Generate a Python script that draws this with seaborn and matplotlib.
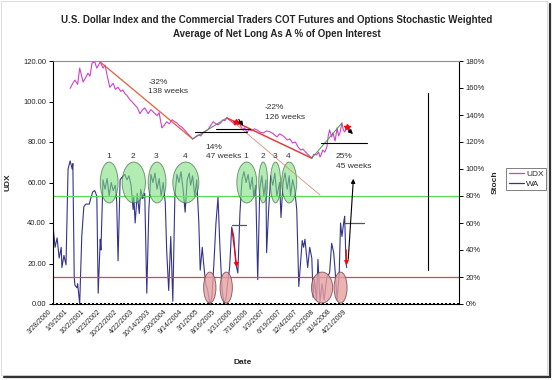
import numpy as np
import pandas as pd
import matplotlib.pyplot as plt
import seaborn as sns
from matplotlib.patches import Ellipse, Rectangle
from matplotlib.lines import Line2D

sns.set_style('white')
plt.rcParams['font.family'] = ['Liberation Sans', 'DejaVu Sans']

# category axis: one slot per week, a date label every 24 slots
N_WEEKS = 593
TICK_STEP = 24
tick_dates = ['3/28/2000', '1/9/2001', '10/2/2001', '4/23/2002', '10/22/2002', '4/22/2003',
              '10/14/2003', '3/30/2004', '9/14/2004', '3/1/2005', '8/16/2005', '1/31/2006',
              '7/18/2006', '1/3/2007', '6/19/2007', '12/4/2007', '5/20/2008', '11/4/2008',
              '4/21/2009']

# U.S. dollar index (left axis)
udx_wk = [25, 29, 32, 36, 39, 44, 48, 51, 54, 57, 61, 64, 69, 73, 76, 79, 83, 88, 91, 95,
          99, 102, 105, 108, 112, 115, 119, 123, 127, 131, 134, 139, 143, 146, 152, 155, 159,
          163, 166, 170, 174, 178, 181, 185, 188, 192, 196, 200, 204, 208, 212, 216, 219, 223,
          226, 230, 234, 238, 241, 245, 248, 251, 254, 258, 261, 264, 266, 270, 274, 277, 280,
          283, 287, 291, 294, 298, 302, 307, 312, 317, 322, 327, 331, 334, 338, 342, 346, 350,
          354, 358, 362, 365, 369, 372, 375, 378, 381, 385, 388, 390, 392, 394, 397, 400, 402,
          404, 407, 409, 412, 415, 417, 419, 422, 424, 426, 429, 431, 434]
udx_val = [106.5, 109.0, 110.6, 108.5, 116.5, 109.6, 112.0, 114.0, 112.5, 119.0, 119.5, 116.5,
           119.5, 116.5, 118.0, 113.0, 107.0, 109.0, 106.0, 107.0, 105.0, 105.7, 104.0, 103.0,
           101.0, 100.0, 98.5, 97.0, 94.0, 96.0, 96.8, 94.0, 96.0, 95.0, 93.0, 94.5, 87.0, 88.5,
           90.0, 89.0, 91.0, 90.0, 89.4, 88.0, 87.4, 86.0, 84.4, 83.0, 81.5, 82.5, 83.5, 83.0,
           84.4, 85.5, 86.0, 88.0, 90.0, 89.0, 88.4, 89.5, 90.9, 90.5, 91.9, 90.8, 90.0, 89.0,
           88.4, 90.0, 88.0, 86.0, 87.0, 85.0, 86.0, 85.5, 86.5, 86.0, 85.0, 84.4, 85.5, 85.0,
           84.0, 82.5, 84.0, 83.5, 82.5, 81.0, 81.5, 79.5, 80.0, 77.5, 76.0, 76.5, 75.0, 74.0,
           73.0, 72.0, 74.0, 73.6, 75.0, 72.6, 74.0, 76.0, 75.0, 77.5, 83.0, 86.0, 82.5, 84.5,
           80.5, 87.0, 83.0, 84.4, 89.4, 86.0, 85.0, 87.0, 86.0, 85.0]

# commercial traders stochastic weighted average (right axis, %)
wa_wk = [0, 3, 6, 9, 12, 13, 16, 19, 22, 25, 28, 29, 31, 32, 35, 36, 39, 42, 45, 48, 53, 55,
         58, 61, 64, 66, 69, 70, 73, 76, 79, 82, 85, 88, 91, 93, 95, 98, 101, 105, 108, 111,
         114, 117, 118, 120, 123, 126, 128, 131, 134, 137, 140, 143, 146, 149, 152, 155, 158,
         161, 164, 166, 169, 172, 175, 178, 181, 184, 187, 190, 193, 196, 199, 201, 204, 207,
         210, 213, 215, 218, 220, 223, 226, 229, 232, 235, 238, 241, 244, 247, 250, 253, 255,
         258, 261, 264, 267, 270, 273, 276, 279, 282, 285, 288, 291, 293, 296, 299, 302, 305,
         308, 311, 312, 315, 318, 321, 324, 327, 331, 333, 336, 339, 342, 345, 347, 350, 353,
         356, 359, 364, 366, 368, 372, 375, 378, 380, 382, 385, 387, 390, 393, 396, 400, 404,
         407, 410, 412, 415, 418, 420, 422, 425, 426, 428, 429]
wa_pct = [58, 42, 49, 34, 42, 27, 36, 29, 100, 106, 100, 104, 20, 14, 12, 15, 0, 50, 72, 74,
          74, 78, 83, 84, 80, 8, 48, 40, 92, 85, 93, 80, 90, 84, 88, 76, 32, 92, 94, 96, 92,
          95, 88, 70, 80, 60, 82, 67, 85, 78, 82, 8, 70, 96, 90, 97, 85, 93, 80, 90, 75, 40,
          10, 50, 2, 80, 96, 90, 98, 85, 68, 92, 97, 88, 95, 80, 92, 60, 25, 42, 30, 15, 10,
          0, 5, 30, 60, 79, 40, 10, 0, 5, 15, 27, 57, 50, 30, 23, 67, 92, 98, 90, 96, 85, 94,
          80, 88, 18, 85, 95, 80, 92, 38, 70, 95, 88, 97, 80, 90, 64, 90, 97, 85, 95, 80, 92,
          85, 70, 13, 47, 42, 48, 27, 42, 34, 5, 18, 3, 33, 2, 15, 3, 20, 23, 45, 38, 25, 3,
          22, 60, 50, 62, 65, 30, 27]

zero_wk = np.arange(0, N_WEEKS, 5.8)

# annotations drawn by the author (week slot, UDX units)
green_x = [82, 118, 152, 194, 283, 307, 325, 345]
green_w = [26, 34, 26, 38, 29, 13, 15, 22]
green_num = ['1', '2', '3', '4', '1', '2', '3', '4']
pink_x = [229, 253, 393, 420]
pink_w = [18, 18, 31, 19]
moves = [('-32%', '138 weeks', 139, 109.6), ('14%', '47 weeks', 223, 77.5),
         ('-22%', '126 weeks', 309, 96.8), ('25%', '45 weeks', 413, 72.6)]

udx = pd.DataFrame({'week': udx_wk, 'value': udx_val})
wa = pd.DataFrame({'week': wa_wk, 'pct': wa_pct})

fig, ax = plt.subplots(figsize=(5.54, 3.8), dpi=100)
fig.subplots_adjust(left=53/554, right=459/554, bottom=76/380, top=319/380)
ax2 = ax.twinx()
ax.set_zorder(ax2.get_zorder() + 1)
ax.patch.set_visible(False)
ax2.set_facecolor('#c0c0c0')

sns.lineplot(data=wa, x='week', y='pct', ax=ax2, color='#33338f', lw=0.8, legend=False)
ax2.axhline(80, color='#55dd55', lw=0.9)
ax2.axhline(20, color='#e04545', lw=0.9)
sns.lineplot(data=udx, x='week', y='value', ax=ax, color='#d040d0', lw=0.8, legend=False)

ax.plot(zero_wk, np.zeros(len(zero_wk)), ls='none', marker='s', ms=2.1, mew=0,
        color='black', clip_on=False, zorder=5)

# ellipses around stochastic extremes
for cx, w, num in zip(green_x, green_w, green_num):
    ax.add_patch(Ellipse((cx, 60), w, 20.2, facecolor='#80e080', alpha=0.6,
                         edgecolor='#2d5a2d', lw=0.7))
    ax.text(cx - 1, 72.6, num, fontsize=6, color='#333333', ha='center', va='center')
for cx, w in zip(pink_x, pink_w):
    ax.add_patch(Ellipse((cx, 8.1), w, 15.3, facecolor='#e8a0a0', alpha=0.8,
                         edgecolor='#7a4a4a', lw=0.7))

# trend lines between UDX turning points
u = dict(zip(udx_wk, udx_val))
ax.plot([69, 204], [u[69], u[204]], color='#e0603a', lw=0.9)
ax.plot([204, 254], [u[204], u[254]], color='#6a8a6a', lw=0.8)
ax.plot([254, 378], [u[254], u[378]], color='#e04040', lw=1.1)
ax.plot([263, 390], [90, 53.8], color='#d89080', lw=0.6)
ax.plot([378, 422], [u[378], u[422]], color='#40a040', lw=0.7)
ax.plot([207, 283], [84.7, 84.7], color='black', lw=0.8)
ax.plot([238, 288], [86.4, 86.4], color='black', lw=0.8)
ax.plot([391, 458], [79.5, 79.5], color='black', lw=0.8)
ax.plot([261, 282], [39, 39], color='#555555', lw=0.9)
ax.plot([425, 454], [40, 40], color='#555555', lw=0.9)
ax.plot([547, 547], [16.8, 104.2], color='black', lw=0.8)
ax.plot([267, 429], [89.9, 87.4], ls='none', marker='*', ms=4, color='red')

arrow = dict(arrowstyle='-|>', color='black', lw=0.8, mutation_scale=6)
ax.annotate('', xy=(280, 86.9), xytext=(269, 92.3), arrowprops=arrow)
ax.annotate('', xy=(441, 83), xytext=(429, 86.9), arrowprops=arrow)
ax.annotate('', xy=(439, 63.2), xytext=(431, 20.7), arrowprops=arrow)
red_arrow = dict(arrowstyle='-|>', color='red', lw=0.9, mutation_scale=6)
ax.annotate('', xy=(269, 16.8), xytext=(261, 38), arrowprops=red_arrow)
ax.annotate('', xy=(429, 17.8), xytext=(428, 28.1), arrowprops=red_arrow)

for pct, weeks, x, y in moves:
    ax.text(x, y, pct, fontsize=6, color='#333333', va='center')
    ax.text(x, y - 4.9, weeks, fontsize=6, color='#333333', va='center')

# axes
ax.set_xlim(0, N_WEEKS)
ax.set_ylim(0, 120)
ax2.set_ylim(0, 180)
ax.set_yticks(range(0, 121, 20))
ax.set_yticklabels([f'{v:.2f}' for v in range(0, 121, 20)], fontsize=5.5)
ax2.set_yticks(range(0, 181, 20))
ax2.set_yticklabels([f'{v}%' for v in range(0, 181, 20)], fontsize=5.5)
ax.set_xticks(np.arange(len(tick_dates)) * TICK_STEP)
ax.set_xticklabels(tick_dates, rotation=45, ha='right', fontsize=5)
ax.tick_params(axis='x', length=0, pad=3)
ax.tick_params(axis='y', length=3, width=0.7, pad=2, color='black', direction='out', left=True)
ax2.tick_params(axis='y', length=3, width=0.7, pad=2, color='black', direction='out', right=True)
for a in (ax, ax2):
    for s in a.spines.values():
        s.set_visible(False)
for side in ('left', 'right', 'bottom', 'top'):
    ax2.spines[side].set_visible(True)
    ax2.spines[side].set_color('black')
    ax2.spines[side].set_linewidth(0.8)
ax2.spines['top'].set_color('#909090')

ax.set_ylabel('UDX', fontsize=6, weight='bold')
ax.yaxis.set_label_coords((12 - 53) / 406, 0.5)
ax2.set_ylabel('Stoch', fontsize=6, weight='bold')
ax2.yaxis.set_label_coords((492 - 53) / 406, 0.5)
ax.set_xlabel('Date', fontsize=6, weight='bold')
ax.xaxis.set_label_coords((243 - 53) / 406, -0.226)

fig.text(0.499, 1 - 27/380,
         'U.S. Dollar Index and the Commercial Traders COT Futures and Options Stochastic Weighted\n'
         'Average of Net Long As A % of Open Interest',
         ha='center', va='center', fontsize=7, weight='bold', linespacing=1.6)

handles = [Line2D([], [], color='#d040d0', lw=0.9), Line2D([], [], color='#33338f', lw=0.9)]
leg = fig.legend(handles, ['UDX', 'WA'], loc='upper left', bbox_to_anchor=(506/554, 1 - 168/380),
                 fontsize=6, frameon=True, fancybox=False, edgecolor='#606060',
                 handlelength=1.8, handletextpad=0.3, borderpad=0.3, labelspacing=0.2,
                 borderaxespad=0)
leg.get_frame().set_linewidth(0.7)

# chart border: faint frame, dark shadow on the right and bottom
fig.patches.append(Rectangle((0.002, 0.012), 0.986, 0.985, transform=fig.transFigure,
                             fill=False, edgecolor='#d8d8d8', lw=0.6))
fig.lines.append(Line2D([0.992, 0.992], [0.008, 0.99], transform=fig.transFigure,
                        color='#333333', lw=1.6))
fig.lines.append(Line2D([0.008, 0.992], [0.008, 0.008], transform=fig.transFigure,
                        color='#333333', lw=1.6))

fig.savefig('out.png', dpi=100)
